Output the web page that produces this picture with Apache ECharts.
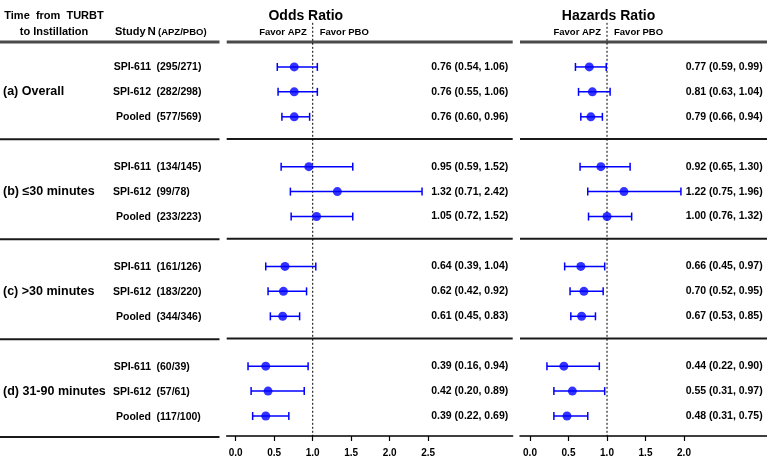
<!DOCTYPE html>
<html>
<head>
<meta charset="utf-8">
<script src="https://cdn.jsdelivr.net/npm/echarts@6/dist/echarts.min.js"></script>
<style>
html,body{margin:0;padding:0;background:#fff;}
#chart{width:767px;height:458px;}
</style>
</head>
<body>
<div id="chart"></div>
<script>
// ---------------- DATA ----------------
const groups = ['(a) Overall', '(b) \u226430 minutes', '(c) >30 minutes', '(d) 31-90 minutes'];
const studies = ['SPI-611', 'SPI-612', 'Pooled'];
const nLabels = ['295/271','282/298','577/569','134/145','99/78','233/223','161/126','183/220','344/346','60/39','57/61','117/100'];
const orEst  = [0.76,0.76,0.76,0.95,1.32,1.05,0.64,0.62,0.61,0.39,0.42,0.39];
const orLow  = [0.54,0.55,0.60,0.59,0.71,0.72,0.39,0.42,0.45,0.16,0.20,0.22];
const orHigh = [1.06,1.06,0.96,1.52,2.42,1.52,1.04,0.92,0.83,0.94,0.89,0.69];
const hrEst  = [0.77,0.81,0.79,0.92,1.22,1.00,0.66,0.70,0.67,0.44,0.55,0.48];
const hrLow  = [0.59,0.63,0.66,0.65,0.75,0.76,0.45,0.52,0.53,0.22,0.31,0.31];
const hrHigh = [0.99,1.04,0.94,1.30,1.96,1.32,0.97,0.95,0.85,0.90,0.97,0.75];
const orTicks = [0, 0.5, 1, 1.5, 2, 2.5];
const hrTicks = [0, 0.5, 1, 1.5, 2];
const refValue = 1;

// ---------------- LAYOUT ----------------
const FONT = '"Liberation Sans", Arial, Helvetica, sans-serif';
const BLUE = '#0000FF';
const Y_MIN = -1, Y_MAX = 14.8;
const GRID_TOP = 42, GRID_H = 395;
const rowY = i => Math.floor(i / 3) * 4 + (i % 3);
const sepY = [2.89, 6.89, 10.89];

function txt(x, y, text, size, align, vAlign, weight) {
  return {
    type: 'text',
    x: x, y: y,
    style: {
      text: text,
      font: (weight || 'bold') + ' ' + size + 'px ' + FONT,
      fill: '#000',
      align: align, textAlign: align,
      verticalAlign: vAlign, textVerticalAlign: vAlign
    }
  };
}

const yAxes = [0,1,2].map(gi => ({
  type: 'value', gridIndex: gi, min: Y_MIN, max: Y_MAX, inverse: true, show: false
}));

function valueAxis(gi, min, max, ticks) {
  return {
    type: 'value', gridIndex: gi, min: min, max: max,
    splitLine: {show: false},
    axisLine: {show: true, onZero: false, lineStyle: {color: '#000', width: 1.5}},
    axisTick: {show: true, length: 5, lineStyle: {color: '#000', width: 1.2}, customValues: ticks},
    axisLabel: {show: true, customValues: ticks, margin: 12, color: '#000', fontFamily: FONT,
      fontWeight: 'bold', fontSize: 10, formatter: v => v.toFixed(1)}
  };
}

const rowsIdx = nLabels.map((_, i) => i);

// Panel builder
function panelSeries(gi, est, low, high, title, titleX, textX, yTop) {
  const axisIdx = {xAxisIndex: gi, yAxisIndex: gi};
  return [
    // separators + header line
    Object.assign({
      type: 'custom', clip: false, silent: true,
      data: [[-1, 3], ...sepY.map(s => [s, 2])],
      renderItem: (params, api) => {
        const r = params.coordSys;
        const y = api.coord([0, api.value(0)])[1];
        return {type: 'line', shape: {x1: r.x, y1: y, x2: r.x + r.width, y2: y},
          style: {stroke: api.value(0) < 0 ? '#4a4a4a' : '#1a1a1a', lineWidth: api.value(1)}};
      }
    }, axisIdx),
    // reference dotted line
    Object.assign({
      type: 'custom', clip: false, silent: true,
      data: [[refValue]],
      renderItem: (params, api) => {
        const p1 = api.coord([api.value(0), yTop]);
        const p2 = api.coord([api.value(0), Y_MAX]);
        return {type: 'line', shape: {x1: p1[0], y1: p1[1], x2: p2[0], y2: p2[1]},
          style: {stroke: '#000', lineWidth: 1, lineDash: [2, 2]}};
      }
    }, axisIdx),
    // headers
    Object.assign({
      type: 'custom', clip: false, silent: true,
      data: [[refValue]],
      renderItem: (params, api) => {
        const pTitle = api.coord([titleX, -2.03]);
        const p = api.coord([api.value(0), -1.38]);
        return {type: 'group', children: [
          txt(pTitle[0], pTitle[1], title, 14, 'center', 'middle'),
          txt(p[0] - 6, p[1], 'Favor APZ', 9.5, 'right', 'middle'),
          txt(p[0] + 7, p[1], 'Favor PBO', 9.5, 'left', 'middle')
        ]};
      }
    }, axisIdx),
    // error bars
    Object.assign({
      type: 'custom', clip: false,
      data: rowsIdx.map(i => [low[i], high[i], rowY(i)]),
      renderItem: (params, api) => {
        const a = api.coord([api.value(0), api.value(2)]);
        const b = api.coord([api.value(1), api.value(2)]);
        const st = {stroke: BLUE, lineWidth: 1.5};
        return {type: 'group', children: [
          {type: 'line', shape: {x1: a[0], y1: a[1], x2: b[0], y2: b[1]}, style: st},
          {type: 'line', shape: {x1: a[0], y1: a[1] - 4, x2: a[0], y2: a[1] + 4}, style: st},
          {type: 'line', shape: {x1: b[0], y1: b[1] - 4, x2: b[0], y2: b[1] + 4}, style: st}
        ]};
      }
    }, axisIdx),
    // point estimates
    Object.assign({
      type: 'scatter', symbol: 'circle', symbolSize: 9,
      itemStyle: {color: BLUE},
      data: rowsIdx.map(i => [est[i], rowY(i)])
    }, axisIdx),
    // value text
    Object.assign({
      type: 'custom', clip: false, silent: true,
      data: rowsIdx.map(i => [est[i], low[i], high[i], rowY(i)]),
      renderItem: (params, api) => {
        const p = api.coord([textX, api.value(3)]);
        const s = api.value(0).toFixed(2) + ' (' + api.value(1).toFixed(2) + ', ' + api.value(2).toFixed(2) + ')';
        return txt(p[0], p[1], s, 10.5, 'right', 'middle');
      }
    }, axisIdx)
  ];
}

const leftSeries = [
  // lines in left table
  {
    type: 'custom', xAxisIndex: 0, yAxisIndex: 0, clip: false, silent: true,
    data: [[-1, 3], ...sepY.map(s => [s, 2]), [Y_MAX, 2]],
    renderItem: (params, api) => {
      const r = params.coordSys;
      const y = api.coord([0, api.value(0)])[1];
      return {type: 'line', shape: {x1: r.x, y1: y, x2: r.x + r.width, y2: y},
        style: {stroke: api.value(0) < 0 ? '#4a4a4a' : '#1a1a1a', lineWidth: api.value(1)}};
    }
  },
  // header texts
  {
    type: 'custom', xAxisIndex: 0, yAxisIndex: 0, clip: false, silent: true,
    data: [[0]],
    renderItem: (params, api) => {
      const a = api.coord([54, -2.03]);
      const b = api.coord([54, -1.39]);
      const s = api.coord([115, -1.4]);
      const n = api.coord([147.5, -1.4]);
      const q = api.coord([158, -1.37]);
      return {type: 'group', children: [
        txt(a[0], a[1], 'Time  from  TURBT', 11, 'center', 'middle'),
        txt(b[0], b[1], 'to Instillation', 11, 'center', 'middle'),
        txt(s[0], s[1], 'Study', 11, 'left', 'middle'),
        txt(n[0], n[1], 'N', 11.5, 'left', 'middle'),
        txt(q[0], q[1], '(APZ/PBO)', 9.5, 'left', 'middle')
      ]};
    }
  },
  // group labels
  {
    type: 'custom', xAxisIndex: 0, yAxisIndex: 0, clip: false, silent: true,
    data: groups.map((g, gi) => [gi * 4 + 1]),
    renderItem: (params, api) => {
      const p = api.coord([3, api.value(0)]);
      return txt(p[0], p[1], groups[params.dataIndex], 12.5, 'left', 'middle');
    }
  },
  // row labels
  {
    type: 'custom', xAxisIndex: 0, yAxisIndex: 0, clip: false, silent: true,
    data: rowsIdx.map(i => [rowY(i)]),
    renderItem: (params, api) => {
      const i = params.dataIndex;
      const a = api.coord([151, api.value(0)]);
      const b = api.coord([156.5, api.value(0)]);
      return {type: 'group', children: [
        txt(a[0], a[1], studies[i % 3], 10.5, 'right', 'middle'),
        txt(b[0], b[1], '(' + nLabels[i] + ')', 10.5, 'left', 'middle')
      ]};
    }
  }
];

const option = {
  animation: false,
  backgroundColor: '#fff',
  grid: [
    {left: 0, width: 219.5, top: GRID_TOP, height: GRID_H},
    {left: 226.7, width: 286, top: GRID_TOP, height: GRID_H},
    {left: 520, width: 247, top: GRID_TOP, height: GRID_H}
  ],
  xAxis: [
    {type: 'value', gridIndex: 0, min: 0, max: 219.5, show: false},
    valueAxis(1, -0.117, -0.117 + 286 / 77, orTicks),
    valueAxis(2, -0.13, -0.13 + 247 / 77, hrTicks)
  ],
  yAxis: yAxes,
  series: [
    ...leftSeries,
    ...panelSeries(1, orEst, orLow, orHigh, 'Odds Ratio', 0.91, 3.54, -1.77),
    ...panelSeries(2, hrEst, hrLow, hrHigh, 'Hazards Ratio', 1.02, 3.022, -1.77)
  ]
};

const chart = echarts.init(document.getElementById('chart'), null, {renderer: 'canvas'});
chart.setOption(option);
</script>
</body>
</html>
